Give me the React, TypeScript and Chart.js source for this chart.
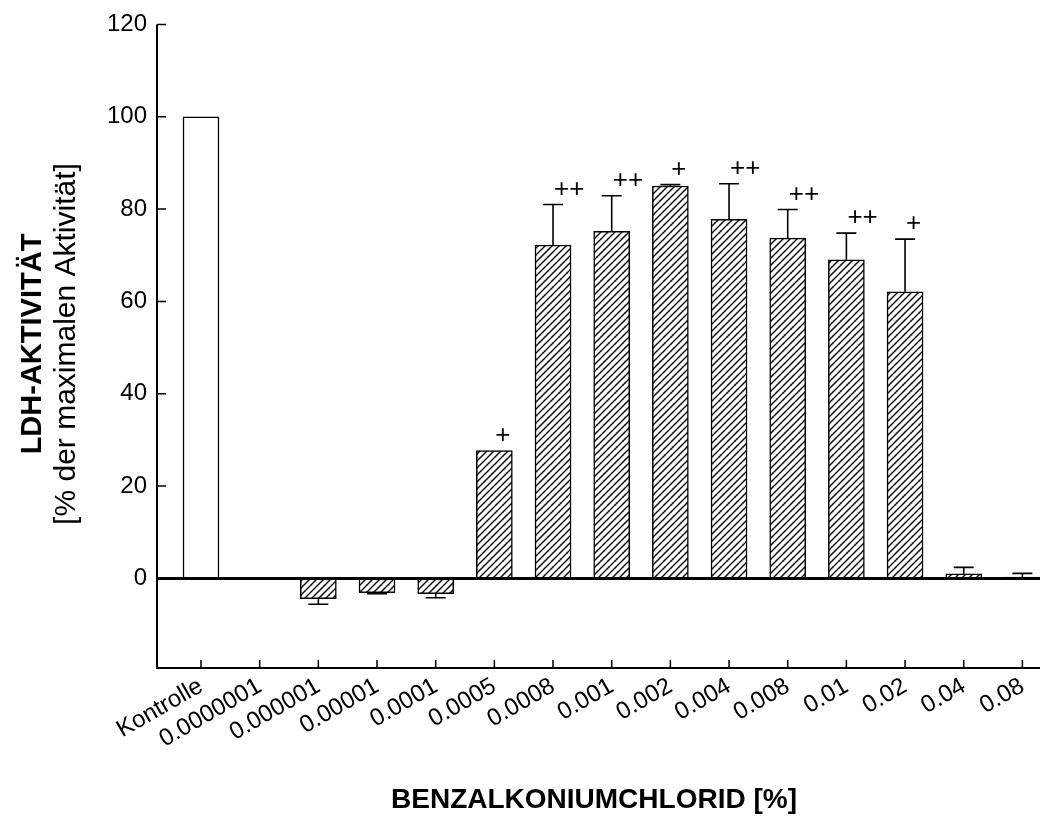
import React, { useEffect, useRef } from 'react';
import { Chart, registerables } from 'chart.js';

Chart.register(...registerables);

// Benzalkonium chloride concentrations [%]
const categories = [
  'Kontrolle', '0.0000001', '0.000001', '0.00001', '0.0001', '0.0005', '0.0008',
  '0.001', '0.002', '0.004', '0.008', '0.01', '0.02', '0.04', '0.08',
];

// LDH activity in % of the maximal activity
const ldhActivity: (number | null)[] = [
  100, null, -4.4, -3.1, -3.3, 27.7, 72.2, 75.2, 85.0, 77.8, 73.7, 69.0, 62.1, 1.0, 0.3,
];

// standard deviation of each group
const ldhError: number[] = [
  0, 0, 1.2, 0.2, 0.9, 0, 8.8, 7.7, 0.3, 7.7, 6.2, 5.8, 11.4, 1.4, 0.8,
];

// significance markers
const significance = ['', '', '', '', '', '+', '++', '++', '+', '++', '++', '++', '+', '', ''];

const yTicks = [0, 20, 40, 60, 80, 100, 120];

const FONT = 'Arial, "Liberation Sans", Helvetica, sans-serif';

function makeHatch(): CanvasPattern | string {
  const size = 7;
  const c = document.createElement('canvas');
  c.width = size;
  c.height = size;
  const g = c.getContext('2d');
  if (!g) return '#fff';
  g.fillStyle = '#fff';
  g.fillRect(0, 0, size, size);
  g.strokeStyle = '#000';
  g.lineWidth = 1.4;
  g.beginPath();
  g.moveTo(-1, size + 1);
  g.lineTo(size + 1, -1);
  g.moveTo(-1, 1);
  g.lineTo(1, -1);
  g.moveTo(size - 1, size + 1);
  g.lineTo(size + 1, size - 1);
  g.stroke();
  return g.createPattern(c, 'repeat') || '#fff';
}

const decorations = {
  id: 'decorations',
  afterDatasetsDraw(chart: any) {
    const { ctx, chartArea: a, scales } = chart;
    const x = scales.x;
    const y = scales.y;
    ctx.save();
    ctx.strokeStyle = '#000';
    ctx.fillStyle = '#000';

    // error bars and significance markers
    ldhActivity.forEach((v, i) => {
      if (v == null) return;
      const err = ldhError[i] || 0;
      const cx = x.getPixelForValue(i);
      const end = v >= 0 ? v + err : v - err;
      const p0 = y.getPixelForValue(v);
      const p1 = y.getPixelForValue(end);
      if (err > 0) {
        ctx.lineWidth = 1.6;
        ctx.beginPath();
        ctx.moveTo(cx, p0);
        ctx.lineTo(cx, p1);
        ctx.moveTo(cx - 10, p1);
        ctx.lineTo(cx + 10, p1);
        ctx.stroke();
      }
      if (significance[i]) {
        ctx.font = `26px ${FONT}`;
        ctx.textAlign = 'left';
        ctx.textBaseline = 'middle';
        ctx.fillText(significance[i], cx + 1, p1 - 15);
      }
    });

    // axis frame
    ctx.lineWidth = 2;
    ctx.beginPath();
    ctx.moveTo(a.left, a.top);
    ctx.lineTo(a.left, a.bottom);
    ctx.lineTo(a.right, a.bottom);
    ctx.stroke();

    // zero line
    const y0 = y.getPixelForValue(0);
    ctx.lineWidth = 3;
    ctx.beginPath();
    ctx.moveTo(a.left, y0);
    ctx.lineTo(a.right, y0);
    ctx.stroke();

    // inward tick marks
    ctx.lineWidth = 1.5;
    ctx.beginPath();
    yTicks.forEach((t) => {
      const py = y.getPixelForValue(t);
      ctx.moveTo(a.left, py);
      ctx.lineTo(a.left + 9, py);
    });
    categories.forEach((_, i) => {
      const px = x.getPixelForValue(i);
      ctx.moveTo(px, a.bottom);
      ctx.lineTo(px, a.bottom - 8);
    });
    ctx.stroke();
    ctx.restore();
  },
  afterDraw(chart: any) {
    const { ctx } = chart;
    ctx.save();
    ctx.fillStyle = '#000';
    ctx.textAlign = 'center';
    ctx.textBaseline = 'middle';
    ctx.font = `bold 28px ${FONT}`;
    ctx.fillText('BENZALKONIUMCHLORID [%]', 594, 800);

    ctx.translate(0, 344);
    ctx.rotate(-Math.PI / 2);
    ctx.font = `bold 29px ${FONT}`;
    ctx.fillText('LDH-AKTIVITÄT', 0, 33);
    ctx.font = `30px ${FONT}`;
    ctx.fillText('[% der maximalen Aktivität]', 0, 67);
    ctx.restore();
  },
};

export default function App() {
  const canvasRef = useRef<HTMLCanvasElement | null>(null);

  useEffect(() => {
    const canvas = canvasRef.current;
    if (!canvas) return;
    const hatch = makeHatch();
    const points = ldhActivity.map((v, i) => ({ x: i, y: v }));

    const chart = new Chart(canvas, {
      type: 'bar',
      data: {
        datasets: [
          {
            data: points as any,
            backgroundColor: categories.map((_, i) => (i === 0 ? '#ffffff' : hatch)) as any,
            borderColor: '#000',
            borderWidth: 1.5,
            barThickness: 36,
          },
        ],
      },
      options: {
        responsive: false,
        animation: false,
        events: [],
        layout: { padding: { top: 23, right: 2, left: 0, bottom: 0 } },
        plugins: {
          legend: { display: false },
          tooltip: { enabled: false },
          title: { display: false },
        },
        scales: {
          x: {
            type: 'linear',
            offset: false,
            min: -0.75,
            max: 14.3,
            grid: { display: false, drawTicks: false, offset: false },
            border: { display: false },
            afterBuildTicks: (scale: any) => {
              scale.ticks = categories.map((_, i) => ({ value: i }));
            },
            afterFit: (scale: any) => {
              scale.height = 155;
              scale.paddingLeft = 0;
              scale.paddingRight = 0;
            },
            ticks: {
              autoSkip: false,
              minRotation: 30,
              maxRotation: 30,
              padding: 4,
              color: '#000',
              font: { family: FONT, size: 24 },
              callback: (value: any) => categories[Number(value)] ?? '',
            },
          },
          y: {
            type: 'linear',
            min: -19.4,
            max: 120,
            grid: { display: false, drawTicks: false },
            border: { display: false },
            afterBuildTicks: (scale: any) => {
              scale.ticks = yTicks.map((v) => ({ value: v }));
            },
            afterFit: (scale: any) => {
              scale.width = 157;
            },
            ticks: {
              padding: 10,
              color: '#000',
              font: { family: FONT, size: 24 },
              callback: (value: any) => String(value),
            },
          },
        },
      },
      plugins: [decorations],
    });

    return () => chart.destroy();
  }, []);

  return (
    <div style={{ position: 'absolute', left: 0, top: 0, width: 1042, height: 823, background: '#fff' }}>
      <canvas ref={canvasRef} width={1042} height={823} style={{ display: 'block' }} />
    </div>
  );
}
